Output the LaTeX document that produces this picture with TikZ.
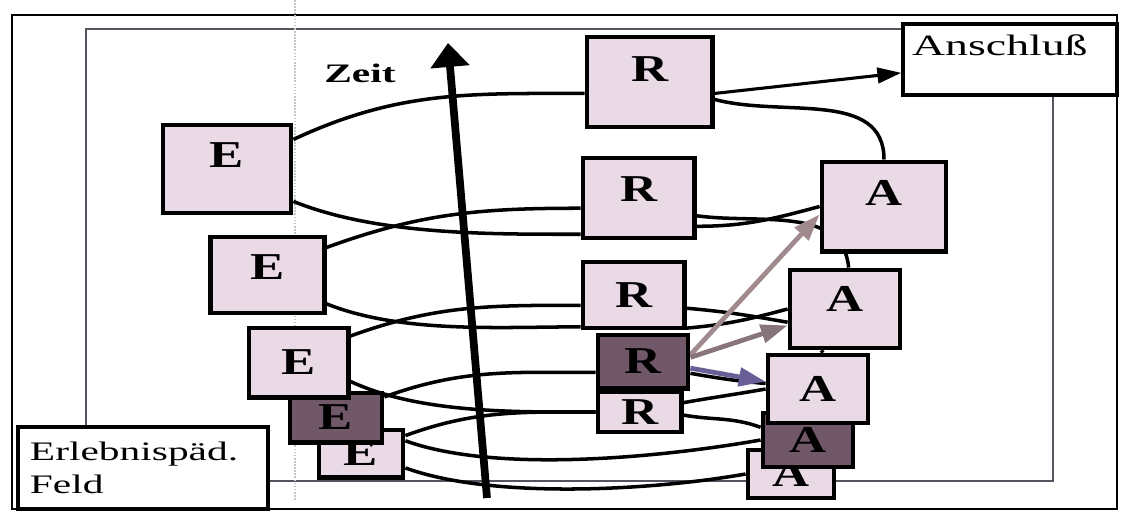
\documentclass[tikz,border=0pt]{standalone}
\usepackage{fontspec}
\setmainfont[FakeStretch=1.35]{Liberation Serif}
\newfontfamily\labelfont[FakeStretch=1.55]{Liberation Serif}
\usetikzlibrary{arrows.meta,backgrounds}
\definecolor{boxfill}{RGB}{234,218,230}
\definecolor{darkfill}{RGB}{112,88,104}
\definecolor{framegray}{RGB}{85,85,95}
\definecolor{hintgray}{RGB}{160,138,142}
\definecolor{hintblue}{RGB}{105,95,150}

\begin{document}
\begin{tikzpicture}[x=0.025cm, y=-0.025cm,
    box/.style={draw, line width=3.4pt, fill=boxfill, inner sep=0pt,
        font=\bfseries\fontsize{27}{28}\selectfont},
    darkbox/.style={box, fill=darkfill},
    labelbox/.style={draw, line width=2.4pt, fill=white, align=left,
        font=\labelfont\fontsize{19}{23}\selectfont},
    helix/.style={line width=2.5pt},
    hint/.style={line width=3.4pt, -{Triangle[length=19pt,width=13pt]}}]
    \useasboundingbox (0,0) rectangle (1122,513);

    % lower boxes first, the upper ones lie over them
    \node[box, minimum width=2.1cm, minimum height=1.18cm] (E5) at (361,453.5) {E};
    \node[darkbox, minimum width=2.3cm, minimum height=1.23cm] (E4) at (336,417.5) {E};
    \node[box, minimum width=2.48cm, minimum height=1.73cm] (E3) at (298.5,362.5) {E};
    \node[box, minimum width=2.83cm, minimum height=1.9cm, text depth=0.4cm] (E2) at (267.5,275) {E};
    \node[box, minimum width=3.2cm, minimum height=2.2cm, text depth=0.7cm] (E1) at (227,169) {E};

    \node[box, minimum width=2.08cm, minimum height=1cm] (R5) at (639.5,412) {R};
    \node[darkbox, minimum width=2.25cm, minimum height=1.33cm] (R4) at (643,361.5) {R};
    \node[box, minimum width=2.53cm, minimum height=1.65cm] (R3) at (633.5,295) {R};
    \node[box, minimum width=2.78cm, minimum height=2cm, text depth=0.45cm] (R2) at (638.5,198) {R};
    \node[box, minimum width=3.13cm, minimum height=2.25cm, text depth=0.65cm] (R1) at (649.5,82) {R};

    \node[box, minimum width=2.15cm, minimum height=1.2cm] (A5) at (791,474) {A};
    \node[darkbox, minimum width=2.25cm, minimum height=1.35cm] (A4) at (808,440) {A};
    \node[box, minimum width=2.5cm, minimum height=1.7cm] (A3) at (818,389) {A};
    \node[box, minimum width=2.75cm, minimum height=1.95cm, text depth=0.5cm] (A2) at (845,309) {A};
    \node[box, minimum width=3.1cm, minimum height=2.23cm, text depth=0.7cm] (A1) at (884,206.5) {A};

    \node[labelbox, minimum width=5.35cm, minimum height=1.775cm, text width=4.89cm,
        inner xsep=0.23cm, inner ysep=0pt, text depth=0.72cm,
        font=\labelfont\fontsize{21}{23}\selectfont] (anschl) at (1010,59.5) {Anschluß};
    \node[labelbox, minimum width=6.25cm, minimum height=2.05cm, text width=5.65cm,
        inner xsep=0.3cm, inner ysep=0pt] (erleb) at (143,468) {Erlebnispäd.\\Feld};

    \node[font=\labelfont\bfseries\fontsize{19}{20}\selectfont] (zeit) at (360,73) {Zeit};
    \coordinate (tfoot) at (487,498);
    \coordinate (ttip) at (448,43);

    \begin{scope}[on background layer]
        \draw[line width=2pt] (12,15) rectangle (1117,509);
        \draw[framegray, line width=1.3pt] (86,29) rectangle (1053,481);
        \draw[gray!45, densely dotted, line width=1.2pt] (295,0) -- (295,500);

        % left half of the spiral
        \draw[helix] (E1.24) to[out=25, in=180] (R1.190);
        \draw[helix] (E1.334) to[out=-22, in=180, looseness=0.8] (R2.212);
        \draw[helix] (E2.25) to[out=20, in=180] (R2.190);
        \draw[helix] (E2.334) to[out=-22, in=180, looseness=0.8] (R3.211);
        \draw[helix] (E3.27) to[out=20, in=180] (R3.191);
        \draw[helix] (E3.340) to[out=-25, in=180, looseness=0.8] (R5.west);
        \draw[helix] (E4.23) to[out=20, in=180] (R4.193);
        \draw[helix] (E5.22) to[out=20, in=180] (R5.west);
        \draw[helix] (E5.16) to[out=-20, in=190, looseness=0.7] (A4.west);
        \draw[helix] (E5.342) to[out=-20, in=190, looseness=0.7] (A5.west);

        % right half
        \draw[helix] (R1.345) to[out=-15, in=90] (A1.north);
        \draw[helix] (R2.343) to[out=-8, in=95] (A2.85);
        \draw[helix] (R2.334) to[out=0, in=195] (A1.west);
        \draw[helix] (R3.346) to[out=-5, in=170] (A2.193);
        \draw[helix] (R3.328) to[out=5, in=195] (A2.west);
        \draw[helix] (A2.240) -- (A3.82);
        \draw[helix] (R4.346) to[out=-10, in=175] (A3.174);
        \draw[helix] (R5.12) to[out=10, in=190] (A3.west);
        \draw[helix] (R5.356) to[out=-10, in=160] (A4.165);

        \draw[line width=2.2pt, -{Triangle[length=17pt,width=11pt]}] (R1.350) -- (anschl.187);

        \draw[hint, hintgray] (R4.8) -- (A1.187);
        \draw[hint, hintgray!85!black] (R4.5) -- (A2.196);
        \draw[hint, hintblue] (R4.352) -- (A3.172);

        \draw[line width=5.5pt, -{Triangle[length=17pt,width=27pt]}] (tfoot) -- (ttip);
    \end{scope}
\end{tikzpicture}
\end{document}
